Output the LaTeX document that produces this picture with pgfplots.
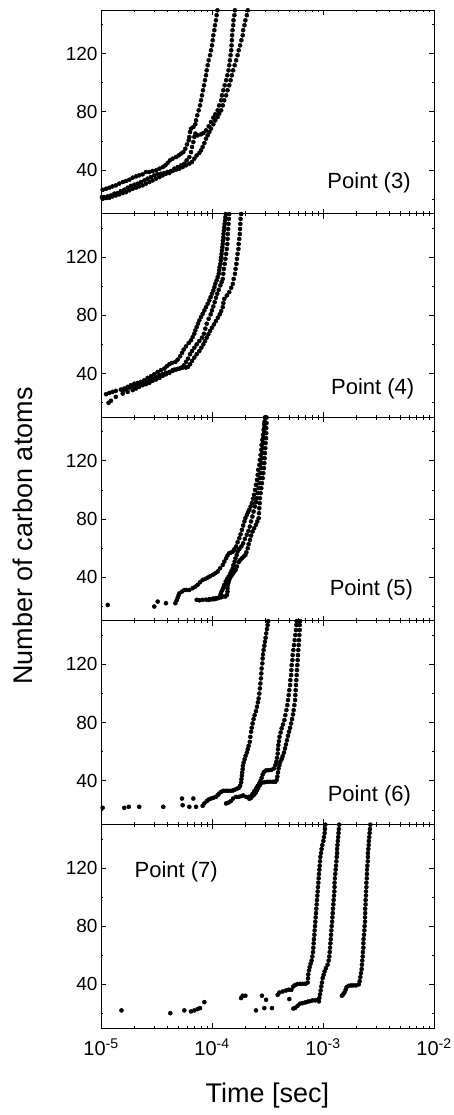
\documentclass[border=0pt]{standalone}
\usepackage{fontspec}
\setmainfont{Liberation Sans}
\usepackage{pgfplots}
\pgfplotsset{compat=1.18}
\usepgfplotslibrary{groupplots}
\pgfplotsset{dots/.style={only marks, mark=*, mark size=2.05pt, black, mark options={draw=black, fill=black}}}
\tikzset{point label/.style={font=\fontsize{22}{26}\selectfont}}
\begin{document}
\begin{tikzpicture}
\begin{groupplot}[
  group style={group size=1 by 5, vertical sep=0pt, xticklabels at=edge bottom},
  width=333pt, height=203.6pt, scale only axis,
  xmode=log, xmin=1e-5, xmax=1e-2, ymin=10, ymax=150,
  xtick={1e-5,1e-4,1e-3,1e-2},
  xticklabels={10\textsuperscript{-5},10\textsuperscript{-4},10\textsuperscript{-3},10\textsuperscript{-2}},
  minor xtick={2e-5,3e-5,4e-5,5e-5,6e-5,7e-5,8e-5,9e-5,2e-4,3e-4,4e-4,5e-4,6e-4,7e-4,8e-4,9e-4,2e-3,3e-3,4e-3,5e-3,6e-3,7e-3,8e-3,9e-3},
  ytick={40,80,120}, minor ytick={20,60,100,140},
  tick align=inside, tick pos=both,
  major tick length=5pt, minor tick length=2.5pt,
  axis line style={line width=0.8pt},
  tick style={black, line width=0.7pt},
  yticklabel style={font=\fontsize{19}{21}\selectfont},
  xticklabel style={font=\fontsize{20}{22}\selectfont, yshift=-7pt},
  /pgf/number format/assume math mode=true,
]
% ---------------- Point (3)
\nextgroupplot
\addplot[dots] coordinates {(1.12e-4,149.8)(1.10e-4,146.4)(1.085e-4,142.9)(1.064e-4,139.5)(1.05e-4,136.1)(1.028e-4,132.6)(1.014e-4,129.2)(1.0e-4,125.7)(9.79e-5,122.3)(9.60e-5,118.9)(9.33e-5,115.4)(9.14e-5,112.0)(8.96e-5,108.5)(8.83e-5,105.1)(8.65e-5,101.7)(8.47e-5,98.2)(8.29e-5,94.8)(8.13e-5,91.3)(7.96e-5,87.9)(7.80e-5,84.4)(7.59e-5,81.0)(7.37e-5,77.6)(7.18e-5,74.1)(7.08e-5,71.4)(6.79e-5,69.5)(6.47e-5,68.4)(6.34e-5,66.1)(6.25e-5,62.7)(6.17e-5,60.4)(5.95e-5,57.6)(5.75e-5,54.6)(5.52e-5,52.3)(5.26e-5,51.2)(5.01e-5,50.0)(4.74e-5,48.9)(4.42e-5,47.8)(4.18e-5,46.6)(3.98e-5,44.8)(3.80e-5,43.2)(3.60e-5,42.0)(3.36e-5,40.9)(3.13e-5,39.7)(2.92e-5,39.3)(2.73e-5,38.6)(2.54e-5,38.6)(2.37e-5,37.0)(2.21e-5,36.3)(2.07e-5,35.6)(1.93e-5,34.7)(1.80e-5,33.3)(1.68e-5,32.4)(1.57e-5,31.7)(1.46e-5,30.6)(1.36e-5,29.4)(1.27e-5,28.7)(1.19e-5,27.8)(1.11e-5,27.1)(1.035e-5,26.4)};
\addplot[dots] coordinates {(1.61e-4,149.8)(1.59e-4,146.4)(1.563e-4,142.9)(1.552e-4,139.5)(1.531e-4,136.1)(1.52e-4,132.6)(1.51e-4,129.2)(1.50e-4,125.7)(1.49e-4,122.3)(1.47e-4,118.9)(1.45e-4,115.4)(1.43e-4,112.0)(1.41e-4,108.5)(1.375e-4,105.1)(1.34e-4,101.7)(1.30e-4,98.2)(1.265e-4,94.8)(1.23e-4,91.3)(1.21e-4,87.9)(1.16e-4,84.4)(1.125e-4,81.0)(1.07e-4,78.3)(1.028e-4,76.0)(9.79e-5,73.0)(9.33e-5,70.0)(8.83e-5,67.2)(8.36e-5,65.4)(7.96e-5,64.5)(7.43e-5,63.8)(7.08e-5,65.0)(6.93e-5,62.7)(6.79e-5,59.2)(6.61e-5,55.8)(6.47e-5,52.3)(6.25e-5,48.9)(5.91e-5,46.6)(5.63e-5,44.3)(5.26e-5,43.2)(4.91e-5,42.0)(4.58e-5,40.9)(4.27e-5,39.3)(3.98e-5,38.6)(3.72e-5,37.9)(3.47e-5,37.4)(3.24e-5,37.0)(3.02e-5,36.3)(2.82e-5,35.1)(2.63e-5,34.0)(2.46e-5,32.8)(2.29e-5,31.7)(2.14e-5,30.6)(2.00e-5,29.9)(1.86e-5,29.0)(1.74e-5,27.8)(1.62e-5,26.4)(1.51e-5,25.5)(1.41e-5,24.1)(1.32e-5,23.7)(1.23e-5,22.5)(1.15e-5,21.8)(1.07e-5,21.4)(1.02e-5,21.4)};
\addplot[dots] coordinates {(2.10e-4,149.8)(2.06e-4,146.4)(2.00e-4,142.9)(1.96e-4,139.5)(1.91e-4,136.1)(1.89e-4,132.6)(1.84e-4,129.2)(1.79e-4,125.7)(1.74e-4,122.3)(1.70e-4,118.9)(1.65e-4,115.4)(1.60e-4,112.0)(1.55e-4,108.5)(1.51e-4,105.1)(1.47e-4,101.7)(1.43e-4,98.2)(1.38e-4,94.8)(1.34e-4,91.3)(1.29e-4,87.9)(1.25e-4,84.4)(1.21e-4,81.0)(1.16e-4,78.7)(1.125e-4,76.4)(1.07e-4,74.1)(1.028e-4,71.4)(9.79e-5,68.4)(9.46e-5,66.1)(9.14e-5,63.8)(8.83e-5,61.5)(8.53e-5,58.5)(8.24e-5,55.8)(7.96e-5,53.5)(7.69e-5,51.7)(7.28e-5,50.0)(6.93e-5,47.8)(6.61e-5,45.5)(6.25e-5,44.3)(5.83e-5,43.2)(5.44e-5,42.0)(5.08e-5,40.9)(4.74e-5,40.2)(4.42e-5,39.3)(4.13e-5,37.9)(3.85e-5,37.4)(3.60e-5,36.3)(3.36e-5,35.1)(3.13e-5,34.0)(2.92e-5,32.8)(2.73e-5,31.7)(2.54e-5,30.6)(2.37e-5,29.4)(2.21e-5,28.7)(2.07e-5,27.8)(1.93e-5,27.1)(1.80e-5,26.0)(1.68e-5,24.8)(1.57e-5,24.1)(1.46e-5,23.2)(1.36e-5,22.5)(1.27e-5,21.8)(1.19e-5,20.9)(1.11e-5,20.7)(1.035e-5,20.2)};
\node[point label] at (rel axis cs:0.805,0.153) {Point (3)};
% ---------------- Point (4)
\nextgroupplot
\addplot[dots] coordinates {(1.33e-4,149.7)(1.32e-4,147.4)(1.31e-4,145.1)(1.30e-4,142.9)(1.29e-4,140.6)(1.28e-4,138.3)(1.27e-4,136.0)(1.265e-4,133.7)(1.255e-4,131.4)(1.25e-4,129.1)(1.24e-4,126.9)(1.23e-4,124.6)(1.22e-4,122.3)(1.21e-4,120.0)(1.20e-4,117.7)(1.19e-4,115.4)(1.17e-4,113.1)(1.16e-4,110.9)(1.15e-4,108.6)(1.125e-4,106.3)(1.10e-4,104.0)(1.07e-4,101.7)(1.05e-4,99.4)(1.028e-4,97.1)(1.00e-4,94.9)(9.72e-5,92.6)(9.46e-5,90.3)(9.14e-5,88.0)(8.83e-5,85.7)(8.53e-5,83.4)(8.24e-5,81.1)(7.96e-5,78.9)(7.69e-5,76.6)(7.48e-5,74.3)(7.28e-5,72.0)(7.08e-5,69.7)(6.93e-5,67.4)(6.70e-5,65.1)(6.47e-5,62.9)(6.17e-5,61.0)(5.83e-5,58.7)(5.56e-5,56.5)(5.37e-5,54.2)(5.16e-5,51.9)(4.91e-5,49.6)(4.68e-5,48.0)(4.36e-5,47.3)(4.13e-5,46.4)(3.91e-5,45.0)(3.72e-5,43.4)(3.47e-5,42.3)(3.24e-5,41.1)(3.02e-5,39.5)(2.82e-5,38.2)(2.63e-5,37.0)(2.46e-5,35.4)(2.29e-5,34.3)(2.14e-5,33.6)(2.00e-5,33.1)(1.86e-5,32.0)(1.74e-5,30.9)(1.62e-5,29.7)(1.51e-5,29.0)(1.36e-5,28.1)(1.27e-5,27.4)(1.19e-5,26.7)(1.11e-5,25.8)};
\addplot[dots] coordinates {(1.43e-4,149.7)(1.42e-4,146.3)(1.41e-4,142.9)(1.40e-4,139.4)(1.39e-4,136.0)(1.38e-4,132.6)(1.375e-4,129.1)(1.36e-4,125.7)(1.34e-4,122.3)(1.32e-4,118.9)(1.30e-4,115.4)(1.28e-4,112.0)(1.265e-4,108.6)(1.25e-4,105.1)(1.22e-4,102.9)(1.19e-4,100.6)(1.15e-4,97.6)(1.115e-4,94.9)(1.085e-4,92.1)(1.057e-4,89.1)(1.028e-4,86.2)(1.00e-4,83.4)(9.72e-5,80.7)(9.33e-5,77.7)(8.96e-5,74.3)(8.71e-5,70.9)(8.47e-5,67.4)(8.13e-5,64.7)(7.69e-5,62.4)(7.28e-5,60.1)(6.93e-5,57.8)(6.61e-5,55.5)(6.34e-5,53.3)(6.08e-5,50.3)(5.83e-5,48.0)(5.59e-5,45.7)(5.30e-5,44.1)(4.91e-5,43.2)(4.58e-5,42.7)(4.42e-5,42.3)(4.13e-5,41.1)(3.85e-5,40.5)(3.60e-5,39.5)(3.36e-5,38.9)(3.13e-5,37.7)(2.92e-5,36.6)(2.73e-5,35.4)(2.54e-5,34.3)(2.37e-5,33.1)(2.21e-5,32.7)(2.07e-5,32.0)(1.93e-5,31.3)(1.80e-5,30.4)(1.68e-5,29.0)(1.57e-5,28.1)};
\addplot[dots] coordinates {(1.83e-4,149.7)(1.81e-4,146.3)(1.80e-4,142.9)(1.79e-4,139.4)(1.78e-4,136.0)(1.76e-4,132.6)(1.74e-4,129.1)(1.73e-4,125.7)(1.70e-4,122.3)(1.68e-4,118.9)(1.66e-4,115.4)(1.63e-4,112.0)(1.61e-4,108.6)(1.57e-4,105.1)(1.54e-4,101.7)(1.49e-4,99.0)(1.43e-4,96.0)(1.36e-4,93.7)(1.29e-4,91.4)(1.265e-4,88.5)(1.25e-4,85.7)(1.21e-4,83.0)(1.175e-4,80.7)(1.13e-4,78.4)(1.085e-4,76.1)(1.042e-4,73.8)(1.00e-4,71.5)(9.60e-5,69.3)(9.27e-5,67.0)(8.96e-5,64.7)(8.65e-5,62.4)(8.36e-5,60.1)(8.02e-5,57.8)(7.69e-5,55.5)(7.28e-5,53.3)(6.93e-5,51.0)(6.61e-5,48.7)(6.34e-5,46.4)(6.08e-5,44.6)(5.83e-5,44.1)(5.44e-5,44.1)(5.08e-5,43.4)(4.74e-5,42.7)(4.42e-5,41.8)(4.13e-5,40.5)(3.85e-5,39.5)(3.60e-5,38.4)(3.36e-5,37.0)(3.13e-5,35.9)(2.92e-5,35.0)(2.73e-5,33.6)(2.54e-5,32.7)(2.37e-5,32.0)(2.21e-5,30.9)(2.07e-5,29.7)(1.93e-5,28.6)(1.74e-5,27.4)(1.57e-5,26.3)(1.36e-5,24.0)(1.23e-5,21.3)(1.17e-5,19.9)};
\node[point label] at (rel axis cs:0.816,0.138) {Point (4)};
% ---------------- Point (5)
\nextgroupplot
\addplot[dots] coordinates {(3.02e-4,149.8)(2.98e-4,147.1)(2.96e-4,144.8)(2.92e-4,141.3)(2.88e-4,137.9)(2.84e-4,134.4)(2.80e-4,131.0)(2.78e-4,127.6)(2.74e-4,124.1)(2.70e-4,120.7)(2.67e-4,117.2)(2.61e-4,113.8)(2.58e-4,110.4)(2.54e-4,106.9)(2.49e-4,103.5)(2.44e-4,100.0)(2.39e-4,96.6)(2.34e-4,93.9)(2.29e-4,90.9)(2.23e-4,88.6)(2.17e-4,86.3)(2.11e-4,84.7)(2.06e-4,82.8)(2.00e-4,80.6)(1.96e-4,78.3)(1.91e-4,75.5)(1.86e-4,72.5)(1.81e-4,69.5)(1.76e-4,66.8)(1.70e-4,64.0)(1.65e-4,61.1)(1.59e-4,59.2)(1.54e-4,57.6)(1.48e-4,56.9)(1.43e-4,56.5)(1.38e-4,54.9)(1.34e-4,53.0)(1.29e-4,50.7)(1.25e-4,48.4)(1.18e-4,46.1)(1.125e-4,43.9)(1.07e-4,42.7)(1.014e-4,41.6)(9.60e-5,40.6)(9.14e-5,39.7)(8.71e-5,38.8)(8.24e-5,38.1)(7.80e-5,36.5)(7.43e-5,34.7)(7.08e-5,33.5)(6.70e-5,32.4)(6.25e-5,31.2)(5.91e-5,31.2)(5.63e-5,31.2)(5.37e-5,30.1)(5.08e-5,28.9)(5.01e-5,27.8)(4.91e-5,26.0)(4.81e-5,24.1)(4.68e-5,22.1)(3.85e-5,22.1)(3.24e-5,23.2)(3.02e-5,19.8)(1.15e-5,20.9)};
\addplot[dots] coordinates {(3.00e-4,149.8)(2.98e-4,145.9)(2.96e-4,142.5)(2.94e-4,139.0)(2.90e-4,135.6)(2.88e-4,132.2)(2.86e-4,128.7)(2.84e-4,125.3)(2.82e-4,121.8)(2.80e-4,118.4)(2.78e-4,115.0)(2.74e-4,111.5)(2.70e-4,108.1)(2.67e-4,104.6)(2.63e-4,101.2)(2.58e-4,97.8)(2.53e-4,94.3)(2.49e-4,91.6)(2.44e-4,88.6)(2.37e-4,85.1)(2.31e-4,81.7)(2.25e-4,78.3)(2.19e-4,74.8)(2.13e-4,71.8)(2.06e-4,69.1)(1.98e-4,66.3)(1.91e-4,63.3)(1.84e-4,61.1)(1.76e-4,59.2)(1.70e-4,57.6)(1.67e-4,55.3)(1.63e-4,53.0)(1.60e-4,50.7)(1.56e-4,48.4)(1.54e-4,46.1)(1.50e-4,44.3)(1.46e-4,42.5)(1.41e-4,40.4)(1.365e-4,38.6)(1.33e-4,37.0)(1.29e-4,34.7)(1.265e-4,32.8)(1.24e-4,31.2)(1.21e-4,29.6)(1.19e-4,27.8)(1.16e-4,26.0)(1.125e-4,25.5)(1.07e-4,25.0)(1.028e-4,24.8)(9.79e-5,24.8)(9.33e-5,24.4)};
\addplot[dots] coordinates {(3.10e-4,149.8)(3.10e-4,145.9)(3.08e-4,142.5)(3.08e-4,139.0)(3.07e-4,135.6)(3.04e-4,132.2)(3.02e-4,128.7)(3.00e-4,125.3)(2.98e-4,121.8)(2.96e-4,118.4)(2.94e-4,115.0)(2.90e-4,111.5)(2.86e-4,108.1)(2.82e-4,104.6)(2.78e-4,101.2)(2.74e-4,97.8)(2.70e-4,94.3)(2.69e-4,90.9)(2.67e-4,87.4)(2.65e-4,84.0)(2.63e-4,80.6)(2.56e-4,78.3)(2.49e-4,76.0)(2.40e-4,73.7)(2.32e-4,71.4)(2.25e-4,68.6)(2.20e-4,65.6)(2.14e-4,62.7)(2.10e-4,59.9)(2.04e-4,57.1)(2.00e-4,55.3)(1.93e-4,54.2)(1.86e-4,53.0)(1.80e-4,51.9)(1.74e-4,50.3)(1.68e-4,47.3)(1.63e-4,45.0)(1.59e-4,43.9)(1.55e-4,42.5)(1.50e-4,41.1)(1.46e-4,39.7)(1.43e-4,38.3)(1.41e-4,36.5)(1.39e-4,34.7)(1.38e-4,32.4)(1.38e-4,30.1)(1.365e-4,27.8)(1.32e-4,26.7)(1.25e-4,26.7)(1.21e-4,26.2)(1.15e-4,25.8)(1.085e-4,25.5)(1.028e-4,25.3)(9.46e-5,24.8)(8.83e-5,24.6)(8.24e-5,24.4)(7.69e-5,24.1)(7.28e-5,24.4)};
\node[point label] at (rel axis cs:0.812,0.153) {Point (5)};
% ---------------- Point (6)
\nextgroupplot
\addplot[dots] coordinates {(3.21e-4,149.8)(3.17e-4,147.1)(3.13e-4,144.3)(3.08e-4,141.3)(3.04e-4,138.3)(3.00e-4,135.6)(2.96e-4,132.8)(2.92e-4,129.9)(2.88e-4,126.9)(2.86e-4,124.1)(2.84e-4,120.7)(2.80e-4,117.2)(2.78e-4,113.8)(2.76e-4,110.4)(2.73e-4,106.9)(2.70e-4,103.5)(2.67e-4,100.0)(2.63e-4,96.6)(2.59e-4,93.9)(2.54e-4,90.9)(2.49e-4,87.9)(2.42e-4,85.1)(2.37e-4,82.4)(2.32e-4,79.4)(2.28e-4,76.4)(2.25e-4,73.7)(2.215e-4,70.2)(2.19e-4,66.8)(2.14e-4,64.0)(2.10e-4,61.7)(2.06e-4,59.4)(2.01e-4,57.2)(1.97e-4,54.9)(1.93e-4,52.6)(1.90e-4,50.3)(1.89e-4,48.0)(1.87e-4,45.7)(1.86e-4,43.4)(1.84e-4,41.1)(1.83e-4,38.8)(1.79e-4,36.5)(1.74e-4,35.1)(1.67e-4,34.4)(1.60e-4,33.8)(1.54e-4,33.3)(1.46e-4,33.1)(1.39e-4,33.1)(1.33e-4,33.1)(1.265e-4,33.1)(1.21e-4,32.4)(1.16e-4,31.2)(1.125e-4,30.1)(1.085e-4,28.9)(1.028e-4,28.3)(9.79e-5,27.8)(9.33e-5,27.1)(8.96e-5,26.0)(8.53e-5,24.4)(8.24e-5,22.8)(7.18e-5,22.1)(6.25e-5,22.1)(5.44e-5,23.2)(5.37e-5,27.8)(6.79e-5,27.8)(3.64e-5,22.1)(2.21e-5,22.1)(1.78e-5,22.1)(1.62e-5,21.4)(1.035e-5,21.4)};
\addplot[dots] coordinates {(5.79e-4,149.8)(5.75e-4,147.1)(5.71e-4,143.6)(5.63e-4,140.2)(5.56e-4,136.7)(5.48e-4,133.3)(5.41e-4,129.9)(5.33e-4,126.4)(5.30e-4,123.0)(5.22e-4,119.5)(5.19e-4,116.1)(5.16e-4,112.7)(5.08e-4,109.2)(5.05e-4,105.8)(4.97e-4,102.3)(4.91e-4,98.9)(4.84e-4,95.5)(4.77e-4,92.0)(4.68e-4,88.6)(4.58e-4,85.1)(4.49e-4,81.7)(4.36e-4,78.7)(4.24e-4,76.0)(4.15e-4,73.2)(4.06e-4,70.2)(4.01e-4,67.2)(3.96e-4,64.5)(3.93e-4,61.7)(3.91e-4,58.7)(3.85e-4,55.8)(3.80e-4,53.0)(3.72e-4,50.7)(3.60e-4,48.4)(3.42e-4,47.5)(3.24e-4,47.3)(3.07e-4,47.1)(2.94e-4,46.1)(2.86e-4,44.3)(2.80e-4,42.0)(2.74e-4,40.0)(2.67e-4,38.3)(2.58e-4,36.5)(2.49e-4,34.7)(2.40e-4,32.8)(2.32e-4,31.0)(2.25e-4,29.4)(2.14e-4,28.9)(2.03e-4,28.9)(1.91e-4,29.9)(1.83e-4,29.4)(1.74e-4,28.9)(1.65e-4,28.9)(1.55e-4,27.8)(1.48e-4,26.0)(1.41e-4,25.0)(1.34e-4,24.4)};
\addplot[dots] coordinates {(6.21e-4,149.8)(6.17e-4,147.1)(6.17e-4,143.6)(6.12e-4,140.2)(6.08e-4,136.7)(6.04e-4,133.3)(5.99e-4,129.9)(5.95e-4,126.4)(5.91e-4,123.0)(5.87e-4,119.5)(5.83e-4,116.1)(5.79e-4,112.7)(5.75e-4,109.2)(5.71e-4,105.8)(5.67e-4,102.3)(5.63e-4,98.9)(5.60e-4,95.5)(5.52e-4,92.0)(5.44e-4,88.6)(5.37e-4,85.6)(5.26e-4,82.4)(5.16e-4,79.4)(5.05e-4,76.4)(4.94e-4,73.7)(4.84e-4,70.9)(4.74e-4,67.9)(4.64e-4,65.0)(4.55e-4,62.2)(4.45e-4,59.4)(4.33e-4,56.9)(4.24e-4,54.9)(4.12e-4,53.0)(4.05e-4,50.7)(3.98e-4,48.4)(3.93e-4,45.7)(3.88e-4,42.9)(3.83e-4,40.6)(3.72e-4,39.3)(3.53e-4,39.3)(3.33e-4,39.3)(3.15e-4,39.3)(2.98e-4,39.0)(2.82e-4,38.6)(2.70e-4,37.0)(2.61e-4,35.1)(2.54e-4,33.5)(2.48e-4,31.9)(2.40e-4,30.5)(2.32e-4,29.6)(2.25e-4,28.3)(2.17e-4,27.6)};
\node[point label] at (rel axis cs:0.806,0.141) {Point (6)};
% ---------------- Point (7)
\nextgroupplot[xlabel={Time [sec]}, xlabel style={font=\fontsize{27}{30}\selectfont, yshift=-20pt}]
\addplot[dots] coordinates {(1.050e-3,149.8)(1.042e-3,146.8)(1.035e-3,144.1)(1.021e-3,141.3)(1.007e-3,138.6)(9.86e-4,135.8)(9.72e-4,133.1)(9.60e-4,130.3)(9.46e-4,127.6)(9.40e-4,124.6)(9.33e-4,121.6)(9.27e-4,118.9)(9.20e-4,115.9)(9.14e-4,112.9)(9.08e-4,109.9)(9.01e-4,106.9)(8.96e-4,103.9)(8.89e-4,101.0)(8.83e-4,98.0)(8.77e-4,95.0)(8.71e-4,92.0)(8.65e-4,89.0)(8.59e-4,86.1)(8.53e-4,83.1)(8.47e-4,80.1)(8.41e-4,77.1)(8.36e-4,74.1)(8.29e-4,71.1)(8.24e-4,68.2)(8.18e-4,65.2)(8.13e-4,62.2)(8.02e-4,59.2)(7.90e-4,56.4)(7.74e-4,54.2)(7.59e-4,51.9)(7.48e-4,49.6)(7.37e-4,46.8)(7.33e-4,44.1)(7.28e-4,41.3)(6.93e-4,40.4)(6.56e-4,40.4)(6.21e-4,40.4)(5.87e-4,40.2)(5.60e-4,39.5)(5.41e-4,38.6)(5.19e-4,36.3)(4.91e-4,36.3)(4.64e-4,35.8)(4.33e-4,35.1)(4.05e-4,34.4)(3.91e-4,32.8)(4.97e-4,29.9)(3.47e-4,23.7)(3.07e-4,29.4)(2.96e-4,23.7)(2.82e-4,32.2)(2.49e-4,22.1)(2.00e-4,32.2)(1.89e-4,32.2)(1.83e-4,30.6)(8.53e-5,27.8)(7.80e-5,23.7)(7.43e-5,23.0)(6.93e-5,22.1)(6.47e-5,21.4)(5.63e-5,22.1)(4.21e-5,20.2)(1.53e-5,22.1)};
\addplot[dots] coordinates {(1.40e-3,149.8)(1.39e-3,146.8)(1.38e-3,144.1)(1.37e-3,141.3)(1.36e-3,138.6)(1.35e-3,135.8)(1.34e-3,133.1)(1.34e-3,130.3)(1.33e-3,127.6)(1.32e-3,124.6)(1.31e-3,121.6)(1.30e-3,118.9)(1.29e-3,115.9)(1.28e-3,112.9)(1.27e-3,109.9)(1.27e-3,106.9)(1.265e-3,103.9)(1.256e-3,101.0)(1.248e-3,98.0)(1.24e-3,95.0)(1.23e-3,92.0)(1.224e-3,89.0)(1.216e-3,86.1)(1.208e-3,83.1)(1.198e-3,80.1)(1.19e-3,77.1)(1.181e-3,74.1)(1.174e-3,71.1)(1.166e-3,68.2)(1.158e-3,65.2)(1.15e-3,62.2)(1.14e-3,59.2)(1.125e-3,56.4)(1.10e-3,53.5)(1.064e-3,51.2)(1.035e-3,48.9)(1.014e-3,46.6)(9.93e-4,44.3)(9.79e-4,41.3)(9.66e-4,38.6)(9.53e-4,35.8)(9.40e-4,33.1)(9.27e-4,30.6)(9.20e-4,28.3)(8.96e-4,29.4)(8.53e-4,29.0)(8.07e-4,29.0)(7.64e-4,28.5)(7.28e-4,28.1)(6.93e-4,27.6)(6.56e-4,27.1)(6.21e-4,26.7)(5.91e-4,25.3)(5.63e-4,23.9)(5.41e-4,23.4)};
\addplot[dots] coordinates {(2.67e-3,149.8)(2.65e-3,146.8)(2.63e-3,144.1)(2.61e-3,141.3)(2.59e-3,138.6)(2.58e-3,135.8)(2.56e-3,133.1)(2.54e-3,130.3)(2.54e-3,127.6)(2.53e-3,124.6)(2.51e-3,121.6)(2.49e-3,118.9)(2.49e-3,115.9)(2.48e-3,112.9)(2.46e-3,109.9)(2.46e-3,106.9)(2.44e-3,103.9)(2.44e-3,101.0)(2.42e-3,98.0)(2.42e-3,95.0)(2.40e-3,92.0)(2.40e-3,89.0)(2.39e-3,86.1)(2.39e-3,83.1)(2.37e-3,80.1)(2.36e-3,77.1)(2.34e-3,74.1)(2.32e-3,71.1)(2.31e-3,68.2)(2.31e-3,65.2)(2.29e-3,62.2)(2.28e-3,59.2)(2.26e-3,56.4)(2.245e-3,53.5)(2.23e-3,50.5)(2.20e-3,47.8)(2.17e-3,45.0)(2.14e-3,42.2)(2.10e-3,40.0)(1.98e-3,39.3)(1.87e-3,39.3)(1.79e-3,39.3)(1.70e-3,39.0)(1.63e-3,38.1)(1.60e-3,36.3)(1.56e-3,34.4)(1.52e-3,33.1)(1.48e-3,32.2)};
\node[point label] at (rel axis cs:0.226,0.768) {Point (7)};
\end{groupplot}
\node[rotate=90, font=\fontsize{27}{30}\selectfont] at ([xshift=-78pt,yshift=-17pt]group c1r3.west) {Number of carbon atoms};
\pgfresetboundingbox
\path ([xshift=-101pt,yshift=-87pt]group c1r5.south west) rectangle ([xshift=19pt,yshift=10pt]group c1r1.north east);
\end{tikzpicture}
\end{document}
